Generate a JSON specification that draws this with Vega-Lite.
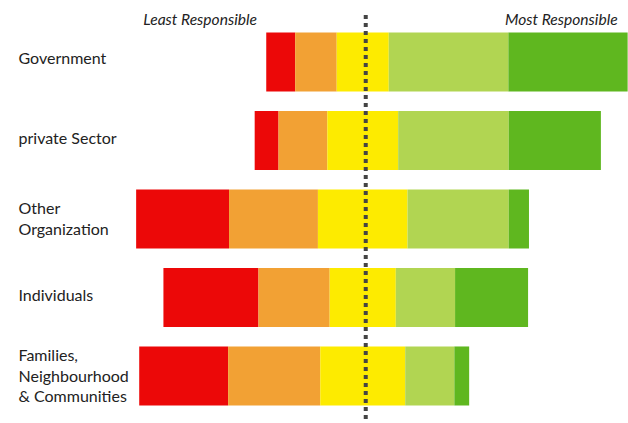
{
  "$schema": "https://vega.github.io/schema/vega-lite/v6.json",
  "width": 498,
  "height": 408,
  "padding": {"left": 130, "top": 15, "right": 0, "bottom": 0},
  "autosize": {"type": "none"},
  "background": "white",
  "config": {"view": {"stroke": null}, "font": "Lato"},
  "data": {
    "values": [
      {"category": "Government", "level": "1", "order": 1, "value": 8.0},
      {"category": "Government", "level": "2", "order": 2, "value": 11.5},
      {"category": "Government", "level": "3", "order": 3, "value": 14.4},
      {"category": "Government", "level": "4", "order": 4, "value": 33.1},
      {"category": "Government", "level": "5", "order": 5, "value": 33.0},
      {"category": "private Sector", "level": "1", "order": 1, "value": 6.6},
      {"category": "private Sector", "level": "2", "order": 2, "value": 13.5},
      {"category": "private Sector", "level": "3", "order": 3, "value": 19.6},
      {"category": "private Sector", "level": "4", "order": 4, "value": 30.6},
      {"category": "private Sector", "level": "5", "order": 5, "value": 25.5},
      {"category": "Other Organization", "level": "1", "order": 1, "value": 25.7},
      {"category": "Other Organization", "level": "2", "order": 2, "value": 24.6},
      {"category": "Other Organization", "level": "3", "order": 3, "value": 24.8},
      {"category": "Other Organization", "level": "4", "order": 4, "value": 28.0},
      {"category": "Other Organization", "level": "5", "order": 5, "value": 5.6},
      {"category": "Individuals", "level": "1", "order": 1, "value": 26.3},
      {"category": "Individuals", "level": "2", "order": 2, "value": 19.7},
      {"category": "Individuals", "level": "3", "order": 3, "value": 18.3},
      {"category": "Individuals", "level": "4", "order": 4, "value": 16.4},
      {"category": "Individuals", "level": "5", "order": 5, "value": 20.2},
      {"category": "Families, Neighbourhood & Communities", "level": "1", "order": 1, "value": 24.6},
      {"category": "Families, Neighbourhood & Communities", "level": "2", "order": 2, "value": 25.5},
      {"category": "Families, Neighbourhood & Communities", "level": "3", "order": 3, "value": 23.5},
      {"category": "Families, Neighbourhood & Communities", "level": "4", "order": 4, "value": 13.6},
      {"category": "Families, Neighbourhood & Communities", "level": "5", "order": 5, "value": 4.1}
    ]
  },
  "layer": [
    {
      "transform": [
        {"calculate": "datum.order < 3 ? datum.value : (datum.order == 3 ? datum.value / 2 : 0)", "as": "neg"},
        {"joinaggregate": [{"op": "sum", "field": "neg", "as": "offset"}], "groupby": ["category"]},
        {"stack": "value", "groupby": ["category"], "sort": [{"field": "order", "order": "ascending"}], "as": ["s0", "s1"]},
        {"calculate": "datum.s0 - datum.offset", "as": "x0"},
        {"calculate": "datum.s1 - datum.offset", "as": "x1"}
      ],
      "mark": {"type": "bar"},
      "encoding": {
        "y": {
          "field": "category",
          "type": "nominal",
          "sort": ["Government", "private Sector", "Other Organization", "Individuals", "Families, Neighbourhood & Communities"],
          "scale": {"paddingInner": 0.248, "paddingOuter": 0.223},
          "axis": {
            "title": null,
            "domain": false,
            "ticks": false,
            "tickSize": 0,
            "labelAlign": "left",
            "labelPadding": 112,
            "labelFontSize": 16,
            "labelColor": "#222222",
            "labelLineHeight": 20.5,
            "labelLimit": 200,
            "labelOffset": {
              "condition": [
                {"test": "datum.value == 'Government'", "value": -3},
                {"test": "datum.value == 'private Sector'", "value": -2},
                {"test": "datum.value == 'Other Organization'", "value": -10},
                {"test": "datum.value == 'Families, Neighbourhood & Communities'", "value": -19.5}
              ],
              "value": -1
            },
            "labelExpr": "datum.value == 'Other Organization' ? ['Other', 'Organization'] : (datum.value == 'Families, Neighbourhood & Communities' ? ['Families,', 'Neighbourhood', '& Communities'] : datum.value)"
          }
        },
        "x": {
          "field": "x0",
          "type": "quantitative",
          "scale": {"domain": [-64.4, 73.4], "nice": false, "zero": false},
          "axis": {
            "orient": "top",
            "title": null,
            "domain": false,
            "ticks": false,
            "grid": false,
            "values": [-29.4, 70.4],
            "labelExpr": "datum.value < 0 ? 'Least Responsible' : 'Most Responsible'",
            "labelAlign": "right",
            "labelPadding": -12,
            "labelFontSize": 15.6,
            "labelFontStyle": "italic",
            "labelColor": "#222222",
            "labelFlush": false,
            "labelOverlap": false
          }
        },
        "x2": {"field": "x1"},
        "color": {
          "field": "level",
          "type": "nominal",
          "scale": {"domain": ["1", "2", "3", "4", "5"], "range": ["#ec0808", "#f2a134", "#fdeb00", "#b1d552", "#5fb71f"]},
          "legend": null
        }
      }
    },
    {
      "data": {"values": [{"center": 0.83}]},
      "mark": {"type": "rule", "strokeWidth": 4, "strokeDash": [4, 4], "color": "#444444"},
      "encoding": {"x": {"field": "center", "type": "quantitative"}}
    }
  ]
}
